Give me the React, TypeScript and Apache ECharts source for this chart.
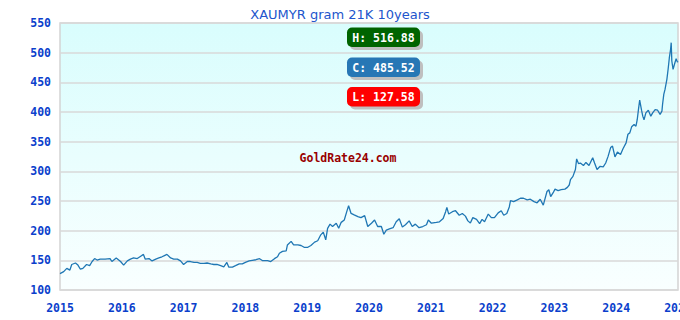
import React, { useEffect, useRef } from "react";
import * as echarts from "echarts";

const titleText = "XAUMYR gram 21K 10years";
const watermark = "GoldRate24.com";

const years = [
  2015.0, 2015.06, 2015.11, 2015.16, 2015.19, 2015.25, 2015.29, 2015.33, 2015.37, 2015.43, 2015.48, 2015.52,
  2015.56, 2015.6, 2015.65, 2015.73, 2015.81, 2015.84, 2015.91, 2015.98, 2016.03, 2016.09, 2016.14, 2016.19,
  2016.25, 2016.3, 2016.35, 2016.38, 2016.44, 2016.49, 2016.55, 2016.6, 2016.65, 2016.69, 2016.73, 2016.79,
  2016.84, 2016.9, 2016.95, 2017.0, 2017.06, 2017.11, 2017.17, 2017.22, 2017.27, 2017.33, 2017.38, 2017.44,
  2017.49, 2017.54, 2017.6, 2017.65, 2017.7, 2017.73, 2017.79, 2017.84, 2017.9, 2017.95, 2018.0, 2018.06,
  2018.11, 2018.17,
  2018.23, 2018.28, 2018.36, 2018.41, 2018.47, 2018.52, 2018.55, 2018.6, 2018.66, 2018.68, 2018.74, 2018.78,
  2018.85, 2018.9, 2018.95, 2019.01, 2019.06, 2019.12, 2019.17, 2019.22, 2019.26, 2019.3, 2019.33, 2019.37,
  2019.41, 2019.47, 2019.51, 2019.55, 2019.6, 2019.64, 2019.67, 2019.71, 2019.76, 2019.82, 2019.87, 2019.93,
  2019.98, 2020.04, 2020.09, 2020.14, 2020.2, 2020.24, 2020.28, 2020.33, 2020.39, 2020.44, 2020.49, 2020.54,
  2020.59, 2020.65, 2020.7, 2020.75, 2020.81, 2020.87, 2020.93, 2020.96, 2021.01, 2021.09, 2021.14,
  2021.2, 2021.24, 2021.26, 2021.29, 2021.35, 2021.4, 2021.46, 2021.51, 2021.56, 2021.6, 2021.64, 2021.68,
  2021.74, 2021.79, 2021.83, 2021.87, 2021.93, 2021.98, 2022.03, 2022.09, 2022.14, 2022.18, 2022.23, 2022.27,
  2022.29, 2022.34, 2022.4, 2022.45, 2022.5, 2022.56, 2022.61, 2022.67, 2022.72, 2022.77, 2022.82, 2022.84,
  2022.88, 2022.91, 2022.94, 2022.98, 2023.01, 2023.06, 2023.11, 2023.17, 2023.21, 2023.24, 2023.26, 2023.3,
  2023.34, 2023.36, 2023.39, 2023.42, 2023.47, 2023.51, 2023.56, 2023.62, 2023.65, 2023.69, 2023.74, 2023.79,
  2023.83, 2023.87, 2023.91, 2023.94, 2023.98, 2024.02, 2024.07, 2024.11, 2024.16, 2024.19,
  2024.22, 2024.25, 2024.29, 2024.32, 2024.34, 2024.36, 2024.38, 2024.41, 2024.43, 2024.45, 2024.48, 2024.52,
  2024.56, 2024.59, 2024.63, 2024.67, 2024.71, 2024.74, 2024.75, 2024.77, 2024.79, 2024.82, 2024.84, 2024.86,
  2024.88, 2024.89, 2024.9, 2024.92, 2024.95, 2024.97, 2024.99, 2025.0,
];

const prices = [
  127.58, 131, 136.5, 133.6, 143, 145.5, 142, 135, 136.5, 143, 141, 148,
  153, 150.5, 152, 152, 153, 148, 154, 148, 142, 149, 152, 154,
  153, 156.5, 160, 152, 153, 149, 152, 154, 156, 158, 160, 154,
  152, 152, 149, 143, 148, 148, 146.5, 146.5, 145, 145, 145.5, 144,
  143, 143, 141, 139, 146.5, 138.7, 138.7, 141, 144, 144, 146.5, 149,
  150, 151,
  152.8, 149.4, 149.4, 148, 152.8, 156, 162, 165, 166, 176, 182, 176,
  176, 175, 172, 172, 175, 180.7, 183, 193, 197.5, 184.6, 204, 211,
  207, 212.6, 204, 214, 218, 232, 242, 229, 226.5, 223.7, 222, 225.4,
  207, 212.6, 218, 207, 207, 194, 201, 203, 205, 215, 220, 206,
  210, 216.5, 207, 211, 205, 207, 210, 218, 212.6, 214, 215,
  220.5, 232, 239, 228, 232, 233.6, 226, 229, 224.5, 216.5, 213, 222,
  219, 212, 219, 215, 228, 222, 222, 230, 233.6, 226, 229, 240,
  250.6, 249, 252, 254.6, 254.6, 252, 253, 249, 247, 253, 243, 250.6,
  266, 269, 257.4, 264, 270, 267.6, 269, 270, 273, 277, 286, 291.5,
  303, 321, 313, 314, 309.7, 315, 309.7, 323, 314, 303, 308.5, 307.4,
  314, 325.6, 340, 342.6, 324.4, 332.4, 328.4, 338, 348, 362.5,
  364.8, 375, 379, 376, 387, 404, 420, 403, 393, 387, 398.6, 403,
  393, 398.6, 404, 403, 396, 401.4, 412.7, 429.6, 438, 455, 472, 491.5,
  505.6, 516.88, 486, 472, 483, 490, 484, 485.52,
];

const yMin = 100;
const yMax = 550;
const yStep = 50;
const xMin = 2015;
const xMax = 2025;

export default function App() {
  const ref = useRef<HTMLDivElement>(null);

  useEffect(() => {
    if (!ref.current) return;
    const chart = echarts.init(ref.current, null, { renderer: "svg" });

    const high = Math.max(...prices);
    const low = Math.min(...prices);
    const close = prices[prices.length - 1];
    const data = years.map((y, i) => [y, prices[i]]);

    const mono = "'DejaVu Sans Mono', 'Liberation Mono', monospace";
    const boxes = [
      { label: `H: ${high.toFixed(2)}`, color: "#006400", y: 27.5 },
      { label: `C: ${close.toFixed(2)}`, color: "#2777b5", y: 57.5 },
      { label: `L: ${low.toFixed(2)}`, color: "#ff0000", y: 87 },
    ];
    const bx = 347;
    const bw = 73;
    const bh = 19.5;

    const graphics: any[] = [];
    boxes.forEach((b) => {
      graphics.push({
        type: "rect",
        shape: { x: bx + 3, y: b.y + 3, width: bw, height: bh, r: 5 },
        style: { fill: "#bfbfbf" },
        z: 10,
      });
      graphics.push({
        type: "rect",
        shape: { x: bx, y: b.y, width: bw, height: bh, r: 5 },
        style: { fill: b.color },
        z: 11,
      });
      graphics.push({
        type: "text",
        x: bx + bw / 2,
        y: b.y + bh / 2 + 0.5,
        style: {
          text: b.label,
          fill: "#ffffff",
          font: `bold 11.5px ${mono}`,
          align: "center",
          verticalAlign: "middle",
        },
        z: 12,
      });
    });
    graphics.push({
      type: "text",
      x: 348,
      y: 158,
      style: {
        text: watermark,
        fill: "#990000",
        font: `bold 11.5px ${mono}`,
        align: "center",
        verticalAlign: "middle",
      },
      z: 5,
    });

    chart.setOption({
      animation: false,
      backgroundColor: "#ffffff",
      title: {
        text: titleText,
        left: "center",
        top: 3,
        textStyle: {
          fontFamily: "'DejaVu Sans', sans-serif",
          fontSize: 13,
          fontWeight: "normal",
          color: "#2255cc",
        },
      },
      grid: {
        left: 60,
        top: 23,
        right: 2,
        bottom: 30,
        containLabel: false,
        outerBoundsMode: "none",
        show: true,
        borderColor: "#d4d4d4",
        borderWidth: 1.5,
        backgroundColor: new echarts.graphic.LinearGradient(0, 0, 0, 1, [
          { offset: 0, color: "#d9fdfd" },
          { offset: 1, color: "#f9ffff" },
        ]),
      },
      xAxis: {
        type: "value",
        min: xMin,
        max: xMax,
        interval: 1,
        axisLine: { show: false },
        axisTick: { show: false },
        splitLine: { show: false },
        axisLabel: {
          margin: 12,
          color: "#0b3fcc",
          fontFamily: mono,
          fontWeight: "bold",
          fontSize: 11.5,
          hideOverlap: false,
          formatter: (v: number) => String(Math.round(v)),
        },
      },
      yAxis: {
        type: "value",
        min: yMin,
        max: yMax,
        interval: yStep,
        axisLine: { show: false },
        axisTick: { show: false },
        splitLine: { show: true, lineStyle: { color: "#d8d8d8", width: 1.5 } },
        axisLabel: {
          margin: 9,
          color: "#0b3fcc",
          fontFamily: mono,
          fontWeight: "bold",
          fontSize: 11.5,
        },
      },
      graphic: graphics,
      series: [
        {
          type: "line",
          data,
          showSymbol: false,
          symbol: "none",
          lineStyle: { color: "#1f77b4", width: 1.3 },
          z: 3,
        },
      ],
    });

    return () => chart.dispose();
  }, []);

  return (
    <div
      ref={ref}
      style={{ position: "absolute", left: 0, top: 0, width: 680, height: 320 }}
    />
  );
}
